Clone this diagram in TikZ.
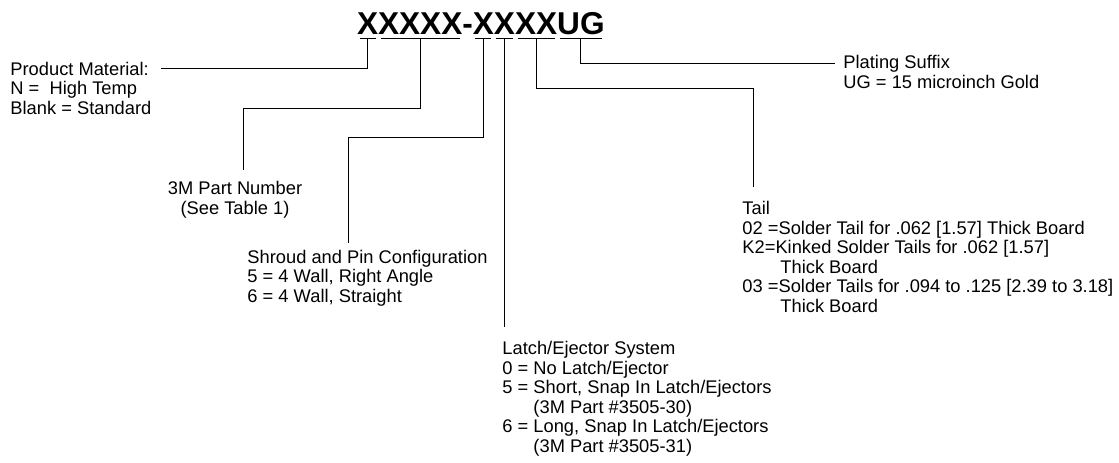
\documentclass[tikz,border=0pt]{standalone}
\usepackage{fontspec}
\setmainfont{Liberation Sans}
\usetikzlibrary{positioning}

\begin{document}
\begin{tikzpicture}[x=1pt,y=-1pt,line width=0.9pt,
  code/.style={inner sep=0pt,outer sep=0pt,font=\fontsize{31.6}{32}\selectfont\bfseries},
  lbl/.style={inner sep=0pt,anchor=base west,align=left,font=\fontsize{18.3}{19.5}\selectfont}]
\useasboundingbox (0,0) rectangle (1119,463);
% the order code
\node[code,anchor=base west] (m) at (357,34) {X};
\node[code,base right=0pt of m] (pn) {XXXX};
\node[code,base right=0pt of pn] (dash) {-};
\node[code,base right=0pt of dash] (sh) {X};
\node[code,base right=0pt of sh] (la) {X};
\node[code,base right=0pt of la] (tl) {XX};
\node[code,base right=0pt of tl] (pl) {UG};
%
\foreach \n in {m,pn,sh,la,tl,pl}{
  \draw[line width=1.4pt] ([xshift=2.5pt,yshift=-4.5pt]\n.base west) -- ([xshift=-2.5pt,yshift=-4.5pt]\n.base east);
  \coordinate (\n-u) at ([yshift=-4.5pt]\n.base);
}
% labels (placed at the baseline of their last line)
\node[lbl] (mat) at (10,114) {Product Material:\\N = \ High Temp\\Blank = Standard};
\node[lbl,align=center,anchor=base] (pnum) at (235,214) {3M Part Number\\(See Table 1)};
\node[lbl] (shr) at (247,302) {Shroud and Pin Configuration\\5 = 4 Wall, Right Angle\\6 = 4 Wall, Straight};
\node[lbl] (lat) at (502,452) {Latch/Ejector System\\0 = No Latch/Ejector\\5 = Short, Snap In Latch/Ejectors\\\phantom{5 = }(3M Part \#3505-30)\\6 = Long, Snap In Latch/Ejectors\\\phantom{6 = }(3M Part \#3505-31)};
\node[lbl] (tai) at (742,312) {Tail\\02 =Solder Tail for .062 [1.57] Thick Board\\K2=Kinked Solder Tails for .062 [1.57]\\\hspace*{38pt}Thick Board\\03 =Solder Tails for .094 to .125 [2.39 to 3.18]\\\hspace*{38pt}Thick Board};
\node[lbl] (pla) at (843,88) {Plating Suffix\\UG = 15 microinch Gold};
%
\coordinate (matE) at (161,68);
\coordinate (pnH) at (243,108);
\coordinate (pnE) at (243,170);
\coordinate (shH) at (348,137);
\coordinate (shE) at (348,243);
\coordinate (laE) at (507,327);
\coordinate (tlH) at (753,88);
\coordinate (tlE) at (753,187);
\coordinate (plE) at (835,63);
%
\draw (m-u) |- (matE);
\draw (pn-u) |- (pnH) -- (pnE);
\draw (sh-u) |- (shH) -- (shE);
\draw (la-u) -- (la-u |- laE);
\draw (tl-u) |- (tlH) -- (tlE);
\draw (pl-u) |- (plE);
\end{tikzpicture}
\end{document}
